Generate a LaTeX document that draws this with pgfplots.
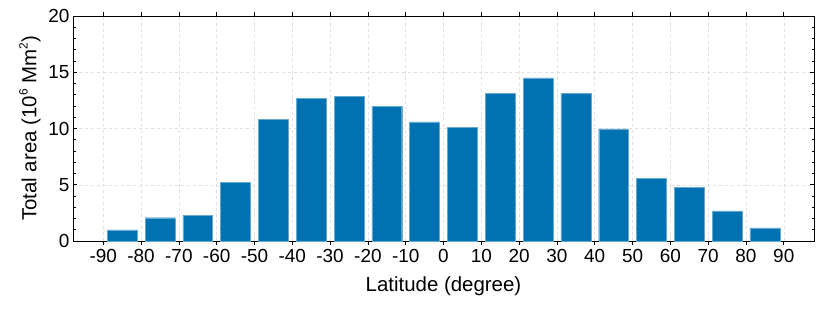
\documentclass[border=0pt]{standalone}
\usepackage{fontspec}
\setmainfont{Liberation Sans}
\usepackage{pgfplots}
\pgfplotsset{compat=1.18}
\definecolor{barblue}{HTML}{0072B2}
% smaller, lower superscript like the reference label
\newcommand{\supx}[1]{\raisebox{0.8ex}{\fontsize{12}{12}\selectfont #1}}

\begin{document}
\begin{tikzpicture}
\begin{axis}[
  scale only axis, width=741bp, height=225bp,
  xmin=-98, xmax=98, ymin=0, ymax=20,
  xtick={-90,-80,...,90}, ytick={0,5,...,20},
  minor y tick num=4,
  tick align=inside,
  major tick length=4bp, minor tick length=2.5bp,
  grid=major,
  major grid style={dashed, gray!25, line width=0.5pt},
  axis line style={line width=0.8pt},
  tick style={black, line width=0.6pt},
  tick label style={font=\fontsize{19}{21}\selectfont},
  xticklabel style={yshift=-1bp},
  label style={font=\fontsize{20.5}{23}\selectfont},
  /pgf/number format/assume math mode=true,
  xlabel={Latitude (degree)},
  ylabel={Total area (10\supx{6} Mm\supx{2})},
  xlabel style={at={(axis description cs:0.5,0)}, anchor=center, yshift=-45bp},
  ylabel style={at={(axis description cs:0,0.5)}, anchor=center, yshift=43bp},
  ybar, bar width=7.9,
]
\addplot[fill=barblue, draw=barblue!60!white, line width=0.4pt] coordinates {
  (-85,0.98) (-75,2.07) (-65,2.31) (-55,5.24) (-45,10.8) (-35,12.71)
  (-25,12.83) (-15,12.0) (-5,10.6) (5,10.1) (15,13.1) (25,14.5)
  (35,13.12) (45,9.96) (55,5.54) (65,4.74) (75,2.67) (85,1.16)
};
\end{axis}
\path ([shift={(-73bp,-71bp)}]current axis.south west) rectangle ([shift={(16bp,16bp)}]current axis.north east);
\end{tikzpicture}
\end{document}
